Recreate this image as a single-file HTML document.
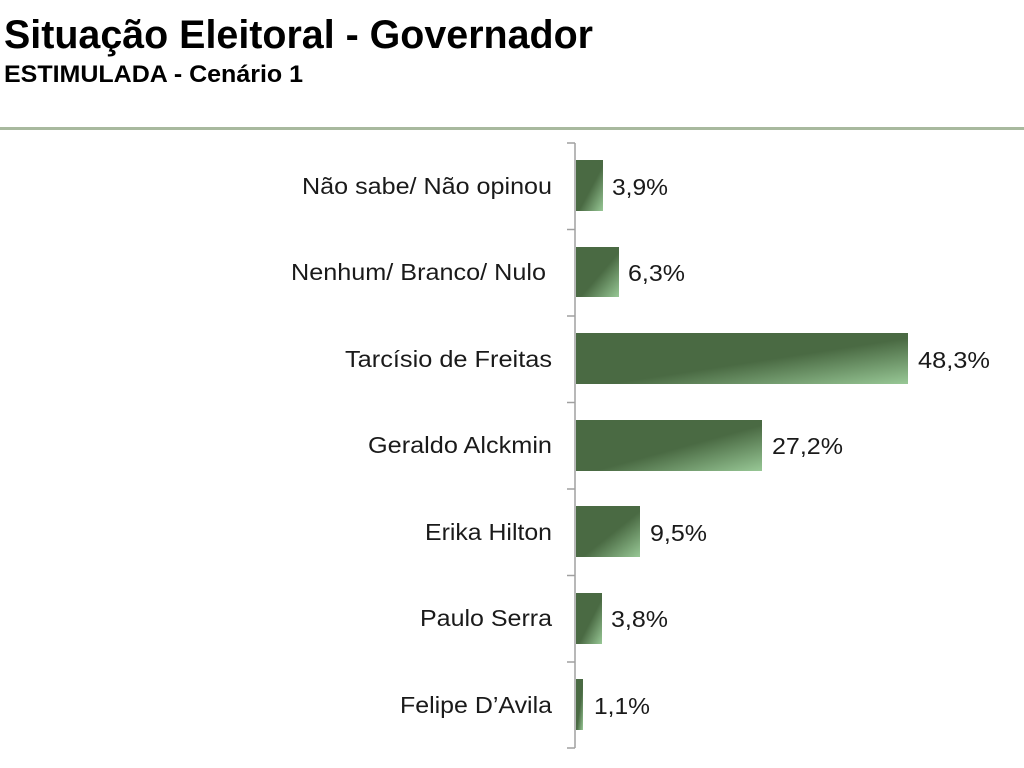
<!DOCTYPE html>
<html><head><meta charset="utf-8"><style>
body{margin:0;background:#fff;width:1024px;height:768px;overflow:hidden}
svg{display:block}
</style></head><body>
<svg width="1024" height="768" xmlns="http://www.w3.org/2000/svg" font-family="Liberation Sans, Arial, sans-serif">
<defs>
<linearGradient id="g" x1="0" y1="0" x2="1" y2="1">
<stop offset="0" stop-color="#4a6a43"/>
<stop offset="0.55" stop-color="#4a6a43"/>
<stop offset="1" stop-color="#98c896"/>
</linearGradient>
</defs>
<text x="4" y="48" font-size="40" font-weight="bold" fill="#000" textLength="589" lengthAdjust="spacingAndGlyphs">Situação Eleitoral - Governador</text>
<text x="4" y="82" font-size="24" font-weight="bold" fill="#000" textLength="299" lengthAdjust="spacingAndGlyphs">ESTIMULADA - Cenário 1</text>
<rect x="0" y="127" width="1024" height="3" fill="#a8b99e"/>
<g stroke="#a0a0a0" stroke-width="1.5">
<line x1="575" y1="143" x2="575" y2="748"/>
<line x1="567" y1="143" x2="575" y2="143"/>
<line x1="567" y1="229.5" x2="575" y2="229.5"/>
<line x1="567" y1="316" x2="575" y2="316"/>
<line x1="567" y1="402.5" x2="575" y2="402.5"/>
<line x1="567" y1="489" x2="575" y2="489"/>
<line x1="567" y1="575.5" x2="575" y2="575.5"/>
<line x1="567" y1="662" x2="575" y2="662"/>
<line x1="567" y1="748" x2="575" y2="748"/>
</g>
<g fill="url(#g)">
<rect x="576" y="160" width="27" height="51"/>
<rect x="576" y="247" width="43" height="50"/>
<rect x="576" y="333" width="332" height="51"/>
<rect x="576" y="420" width="186" height="51"/>
<rect x="576" y="506" width="64" height="51"/>
<rect x="576" y="593" width="26" height="51"/>
<rect x="576" y="679" width="7" height="51"/>
</g>
<g font-size="23" fill="#1a1a1a">
<text x="302" y="194" textLength="250" lengthAdjust="spacingAndGlyphs">Não sabe/ Não opinou</text>
<text x="291" y="280" textLength="255" lengthAdjust="spacingAndGlyphs">Nenhum/ Branco/ Nulo</text>
<text x="345" y="367" textLength="207" lengthAdjust="spacingAndGlyphs">Tarcísio de Freitas</text>
<text x="368" y="453" textLength="184" lengthAdjust="spacingAndGlyphs">Geraldo Alckmin</text>
<text x="425" y="540" textLength="127" lengthAdjust="spacingAndGlyphs">Erika Hilton</text>
<text x="420" y="626" textLength="132" lengthAdjust="spacingAndGlyphs">Paulo Serra</text>
<text x="400" y="713" textLength="152" lengthAdjust="spacingAndGlyphs">Felipe D’Avila</text>
</g>
<g font-size="23" fill="#1a1a1a">
<text x="612" y="195" textLength="56" lengthAdjust="spacingAndGlyphs">3,9%</text>
<text x="628" y="281" textLength="57" lengthAdjust="spacingAndGlyphs">6,3%</text>
<text x="918" y="368" textLength="72" lengthAdjust="spacingAndGlyphs">48,3%</text>
<text x="772" y="454" textLength="71" lengthAdjust="spacingAndGlyphs">27,2%</text>
<text x="650" y="541" textLength="57" lengthAdjust="spacingAndGlyphs">9,5%</text>
<text x="611" y="627" textLength="57" lengthAdjust="spacingAndGlyphs">3,8%</text>
<text x="594" y="714" textLength="56" lengthAdjust="spacingAndGlyphs">1,1%</text>
</g>
</svg>
</body></html>
